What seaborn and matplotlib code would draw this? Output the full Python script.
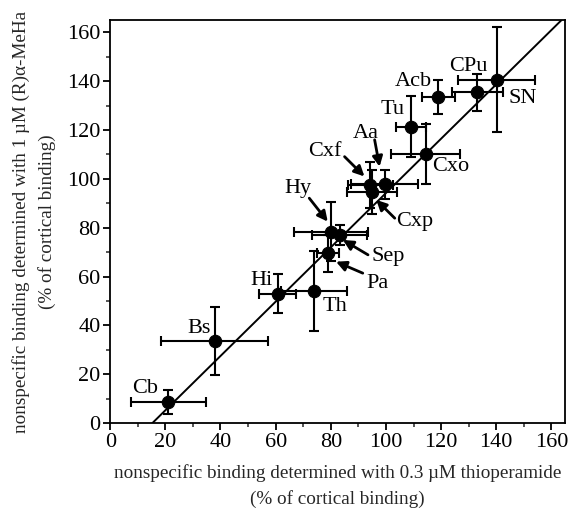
import numpy as np
import pandas as pd
import matplotlib
matplotlib.use("Agg")
import matplotlib.pyplot as plt
import seaborn as sns
from matplotlib.ticker import MultipleLocator

# ---- data ----
regions = ["Cb", "Bs", "Hi", "Th", "Pa", "Hy", "Sep", "Cxf", "Cxp", "Aa",
           "Tu", "Cxo", "Acb", "CPu", "SN"]
thio = [21.1, 37.9, 60.7, 73.8, 78.9, 80.1, 83.2, 94.4, 95.0, 99.5,
        109.2, 114.4, 118.9, 133.1, 140.1]
thio_err = [13.5, 19.4, 6.6, 12.0, 4.0, 13.5, 10.0, 8.0, 9.0, 12.0,
            5.5, 12.5, 6.0, 9.3, 13.8]
meha = [8.7, 33.6, 52.9, 54.2, 69.5, 78.4, 77.0, 97.5, 94.5, 97.8,
        121.4, 110.1, 133.5, 135.4, 140.6]
meha_err = [5.0, 14.0, 8.0, 16.4, 7.5, 12.0, 4.0, 9.5, 9.0, 6.0,
            12.5, 12.4, 7.0, 7.5, 21.5]
fit_slope = 1.112
fit_intercept = -17.0

xlabel_text = "nonspecific binding determined with 0.3 \u00b5M thioperamide\n(% of cortical binding)"
ylabel_text = "nonspecific binding determined with 1 \u00b5M (R)\u03b1-MeHa\n(% of cortical binding)"

df = pd.DataFrame({"region": regions, "thio": thio, "thio_err": thio_err,
                   "meha": meha, "meha_err": meha_err})

# ---- layout of the region labels (text centre) ----
label_pos = {
    "Cb": (12.8, 14.2), "Bs": (32.3, 38.8), "Hi": (55.0, 58.3),
    "Th": (81.6, 47.7), "Pa": (96.8, 57.3), "Sep": (100.7, 68.4),
    "Hy": (68.0, 96.2), "Cxf": (77.7, 111.2), "Aa": (92.8, 118.7),
    "Cxp": (110.4, 82.5), "Cxo": (123.5, 105.0), "Tu": (102.5, 128.3),
    "Acb": (109.8, 139.9), "CPu": (129.8, 146.0), "SN": (149.5, 133.1),
}
arrows = {  # tail -> tip
    "Pa": ((91.6, 61.4), (81.9, 66.1)),
    "Sep": ((93.5, 68.9), (84.4, 75.0)),
    "Hy": ((72.2, 92.1), (78.9, 82.5)),
    "Cxf": ((85.0, 109.1), (92.2, 101.0)),
    "Aa": ((95.9, 116.0), (97.7, 105.0)),
    "Cxp": ((103.2, 83.9), (96.5, 91.4)),
}

sns.set_style("ticks")
plt.rcParams["font.family"] = ["Liberation Serif", "DejaVu Serif"]

fig = plt.figure(figsize=(5.68, 5.16), dpi=100)
ax = fig.add_axes([0.194, 0.180, 0.801, 0.781])

# regression line
xl = np.array([-fit_intercept / fit_slope, (165 - fit_intercept) / fit_slope])
ax.plot(xl, fit_slope * xl + fit_intercept, color="black", lw=1.4, zorder=1)

ax.errorbar(df["thio"], df["meha"], xerr=df["thio_err"], yerr=df["meha_err"],
            fmt="none", ecolor="black", elinewidth=1.5, capsize=3.5,
            capthick=1.5, zorder=2)
sns.scatterplot(data=df, x="thio", y="meha", ax=ax, color="black", s=80,
                edgecolor="black", linewidth=0.8, zorder=3, legend=False)

for r in regions:
    lx, ly = label_pos[r]
    ax.text(lx, ly, r, ha="center", va="center", fontsize=16, color="black")
for r, (tail, tip) in arrows.items():
    ax.annotate("", xy=tip, xytext=tail,
                arrowprops=dict(arrowstyle="-|>", color="black", lw=2.0,
                                mutation_scale=15, shrinkA=0, shrinkB=0))

ax.set_xlim(0, 165)
ax.set_ylim(0, 165)
ax.xaxis.set_major_locator(MultipleLocator(20))
ax.yaxis.set_major_locator(MultipleLocator(20))
ax.xaxis.set_minor_locator(MultipleLocator(10))
ax.yaxis.set_minor_locator(MultipleLocator(10))
ax.tick_params(which="major", direction="out", length=5, width=1.3,
               labelsize=16, pad=2, colors="black")
ax.tick_params(which="minor", direction="out", length=3, width=1.1)
for s in ax.spines.values():
    s.set_visible(True)
    s.set_linewidth(1.3)
    s.set_color("black")

ax.set_xlabel(xlabel_text, fontsize=13.8, labelpad=9, linespacing=1.55)
ax.set_ylabel(ylabel_text, fontsize=13.8, labelpad=8, linespacing=1.55)

fig.savefig("out.png", dpi=100)
